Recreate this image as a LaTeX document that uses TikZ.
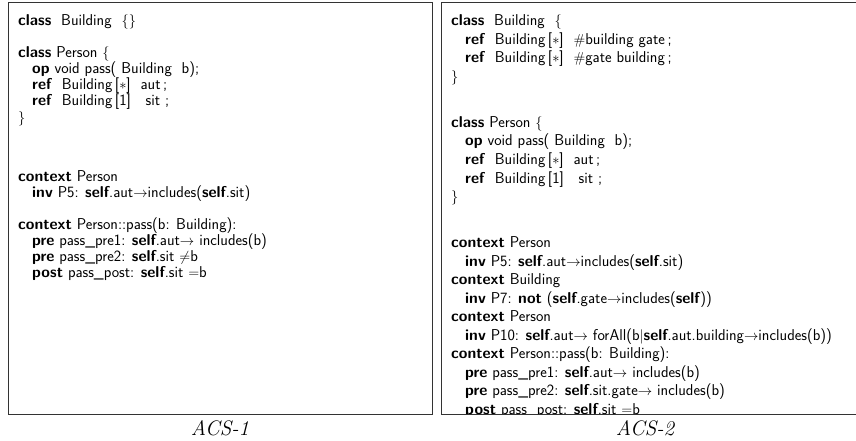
\documentclass[tikz,border=0pt]{standalone}
\tikzset{
  code/.style={font=\fontsize{15.7}{18}\selectfont\sffamily, inner sep=0pt, anchor=base west},
  captext/.style={font=\fontsize{21}{24}\selectfont\rmfamily\itshape, inner sep=0pt, anchor=base},
  frame/.style={draw=black!80, line width=1pt}
}
\begin{document}
\begin{tikzpicture}[x=1pt,y=-1pt]
\path[use as bounding box] (0,0) rectangle (856,441);
% left box
\draw[frame] (8,3) rectangle (432,414);
\node[code] (l1) at (18,26) {\textbf{class}\ \ Building\ \ $\{\}$};
\node[code] (l2) at (18,58) {\textbf{class} Person $\{$};
\node[code] (l3) at (32,74) {\textbf{op} void\ pass( Building\ \ b);};
\node[code] (l4) at (32,90) {\textbf{ref}\ \ Building\,[$\ast$]\ \ aut\,;};
\node[code] (l5) at (32,106) {\textbf{ref}\ \ Building\,[1]\ \ \ sit\ ;};
\node[code] (l6) at (18,122) {$\}$};
\node[code] (l7) at (18,181) {\textbf{context} Person};
\node[code] (l8) at (32,197) {\textbf{inv} P5: \textbf{self}.aut$\rightarrow$includes(\textbf{self}.sit)};
\node[code] (l9) at (18,229) {\textbf{context} Person::pass(b: Building):};
\node[code] (l10) at (32,245) {\textbf{pre} pass\_pre1: \textbf{self}.aut$\rightarrow$ includes(b)};
\node[code] (l11) at (32,261) {\textbf{pre} pass\_pre2: \textbf{self}.sit $\neq$b};
\node[code] (l12) at (32,277) {\textbf{post} pass\_post: \textbf{self}.sit $=$b};
\node[captext] (c1) at (220,435) {ACS-1};
% right box
\draw[frame] (441,3) -- (870,3) (441,3) -- (441,414) -- (870,414);
\begin{scope}
\clip (441,3) rectangle (856,413.5);
\node[code] (r1) at (451,26) {\textbf{class}\ \ Building\ \ $\{$};
\node[code] (r2) at (465,44.5) {\textbf{ref}\ \ Building\,[$\ast$]\ \ $\#$building gate\,;};
\node[code] (r3) at (465,63) {\textbf{ref}\ \ Building\,[$\ast$]\ \ $\#$gate building\,;};
\node[code] (r4) at (451,81.5) {$\}$};
\node[code] (r5) at (451,127.5) {\textbf{class} Person $\{$};
\node[code] (r6) at (465,146) {\textbf{op} void\ pass( Building\ \ b);};
\node[code] (r7) at (465,164.5) {\textbf{ref}\ \ Building\,[$\ast$]\ \ aut\,;};
\node[code] (r8) at (465,183) {\textbf{ref}\ \ Building\,[1]\ \ \ sit\ ;};
\node[code] (r9) at (451,201.5) {$\}$};
\node[code] (r10) at (451,247.5) {\textbf{context} Person};
\node[code] (r11) at (465,266) {\textbf{inv} P5: \textbf{self}.aut$\rightarrow$includes(\textbf{self}.sit)};
\node[code] (r12) at (451,284.5) {\textbf{context} Building};
\node[code] (r13) at (465,303) {\textbf{inv} P7: \textbf{not} (\textbf{self}.gate$\rightarrow$includes(\textbf{self}))};
\node[code] (r14) at (451,321.5) {\textbf{context} Person};
\node[code] (r15) at (465,340) {\textbf{inv} P10: \textbf{self}.aut$\rightarrow$ forAll(b$|$\textbf{self}.aut.building$\rightarrow$includes(b))};
\node[code] (r16) at (451,358.5) {\textbf{context} Person::pass(b: Building):};
\node[code] (r17) at (465,377) {\textbf{pre} pass\_pre1: \textbf{self}.aut$\rightarrow$ includes(b)};
\node[code] (r18) at (465,395.5) {\textbf{pre} pass\_pre2: \textbf{self}.sit.gate$\rightarrow$ includes(b)};
\node[code] (r19) at (465,414) {\textbf{post} pass\_post: \textbf{self}.sit $=$b};
\end{scope}
\node[captext] (c2) at (645,435) {ACS-2};
\end{tikzpicture}
\end{document}
